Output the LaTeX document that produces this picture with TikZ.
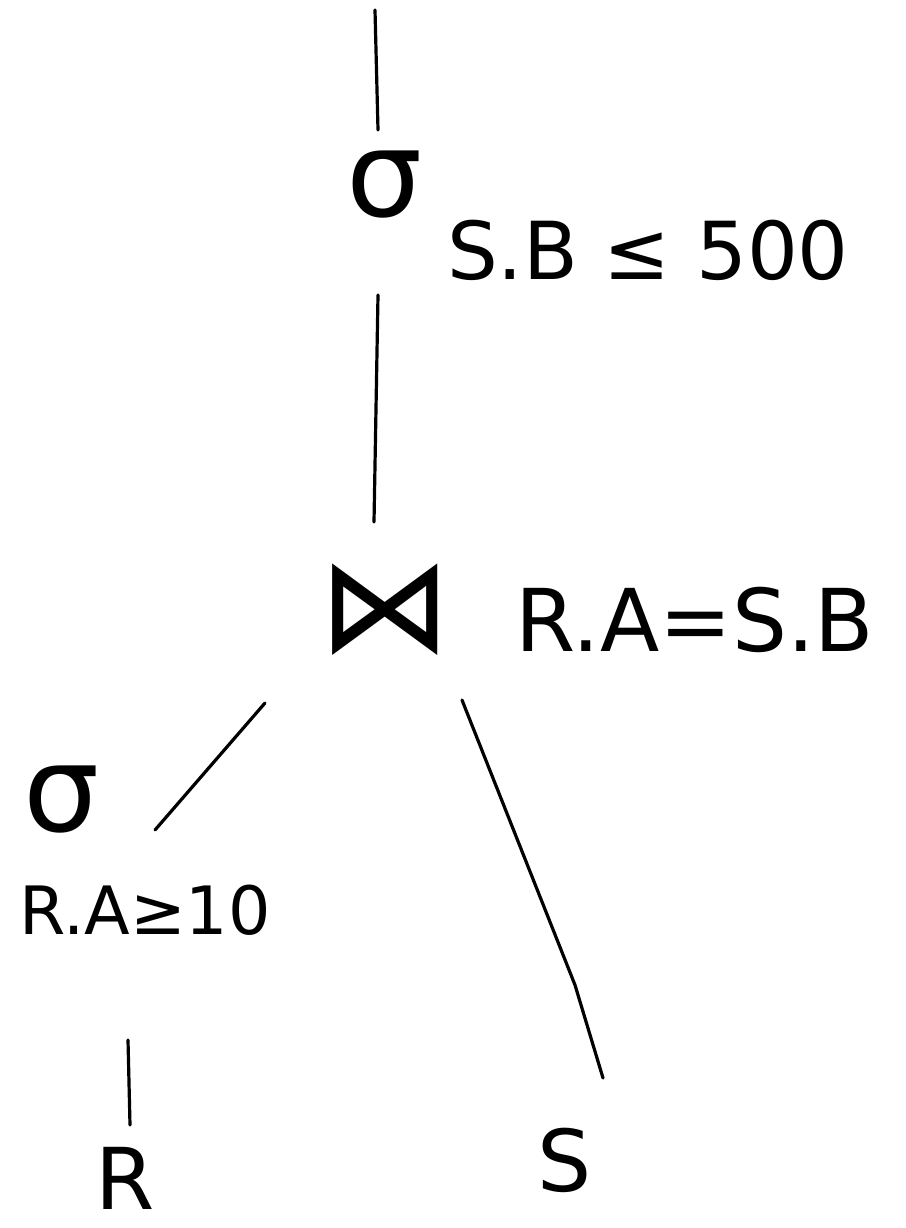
\documentclass[tikz,border=0pt]{standalone}
\usepackage{fontspec}
\setmainfont{DejaVu Sans}
\usetikzlibrary{calc}
\begin{document}
\begin{tikzpicture}[x=0.75pt,y=-0.75pt,
  lbl/.style={inner sep=0pt, font=\fontsize{50}{50}\selectfont},
  opr/.style={inner sep=0pt, font=\fontsize{90}{90}\selectfont},
  edge/.style={line width=2.4pt, line cap=round}]
\useasboundingbox (0,0) rectangle (906,1228);
\coordinate (top) at (375,10);
\node[opr] (sig1) at (385,185) {σ};
\node[lbl,font=\fontsize{60}{60}\selectfont] (cond1) at (648,250) {S.B ≤ 500};
\node[opr,font=\fontsize{100}{100}\selectfont] (join) at (385,610) {⋈};
\node[lbl,font=\fontsize{65}{65}\selectfont] (cond2) at (695,620) {R.A=S.B};
\node[opr] (sig2) at (62,800) {σ};
\node[lbl] (cond3) at (145,910) {R.A≥10};
\node[opr,font=\fontsize{64}{64}\selectfont] (r) at (125,1178) {R};
\node[opr,font=\fontsize{64}{64}\selectfont] (s) at (565,1160) {S};
\draw[edge] (top) -- ($(sig1)+(-7,-55)$);
\draw[edge] ($(sig1)+(-7,110)$) -- ($(join)+(-11,-88)$);
\draw[edge] ($(join)+(-120,93)$) -- ($(sig2)+(93,30)$);
\draw[edge] ($(join)+(77,90)$) -- ($(join)+(190,375)$) -- ($(s)+(38,-82)$);
\draw[edge] ($(cond3)+(-17,130)$) -- ($(r)+(5,-53)$);
\end{tikzpicture}
\end{document}
